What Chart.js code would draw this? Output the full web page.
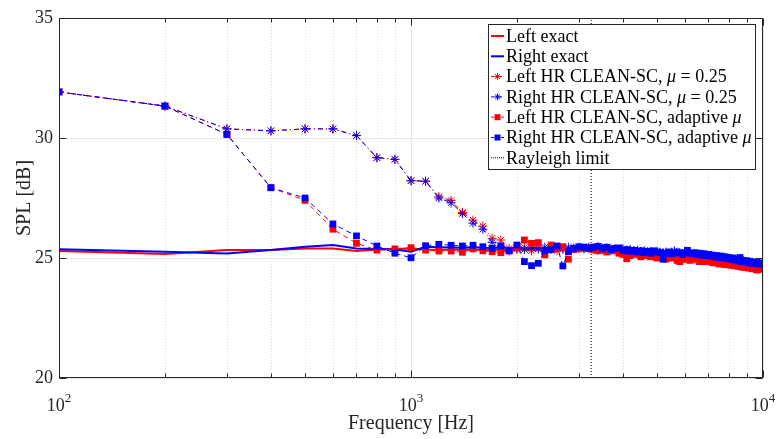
<!DOCTYPE html>
<html>
<head>
<meta charset="utf-8">
<script src="https://cdn.jsdelivr.net/npm/chart.js@4.4.1/dist/chart.umd.min.js"></script>
<style>
  html, body { margin: 0; padding: 0; background: #fff; }
  #spl { display: block; }
</style>
</head>
<body>
<canvas id="spl" width="776" height="439"></canvas>
<script>
// frequencies [Hz]
const freqs = [
  100, 200, 300, 400, 500, 600, 700, 800, 900, 1000,
  1100, 1200, 1300, 1400, 1500, 1600, 1700, 1800, 1900, 2000,
  2100, 2200, 2300, 2400, 2500, 2600, 2700, 2800, 2900, 3000,
  3100, 3200, 3300, 3400, 3500, 3600, 3700, 3800, 3900, 4000,
  4100, 4200, 4300, 4400, 4500, 4600, 4700, 4800, 4900, 5000,
  5100, 5200, 5300, 5400, 5500, 5600, 5700, 5800, 5900, 6000,
  6100, 6200, 6300, 6400, 6500, 6600, 6700, 6800, 6900, 7000,
  7100, 7200, 7300, 7400, 7500, 7600, 7700, 7800, 7900, 8000,
  8100, 8200, 8300, 8400, 8500, 8600, 8700, 8800, 8900, 9000,
  9100, 9200, 9300, 9400, 9500, 9600, 9700, 9800, 9900, 10000
];

const leftExact = [
  25.29, 25.17, 25.33, 25.33, 25.40, 25.40, 25.29, 25.35, 25.38, 25.40,
  25.35, 25.34, 25.33, 25.35, 25.34, 25.33, 25.32, 25.34, 25.33, 25.35,
  25.34, 25.33, 25.35, 25.32, 25.33, 25.34, 25.32, 25.31, 25.32, 25.30,
  25.30, 25.29, 25.27, 25.28, 25.26, 25.25, 25.23, 25.24, 25.22, 25.20,
  25.19, 25.17, 25.18, 25.16, 25.15, 25.13, 25.14, 25.12, 25.11, 25.10,
  25.09, 25.07, 25.08, 25.06, 25.05, 25.04, 25.05, 25.03, 25.02, 25.01,
  25.00, 24.98, 24.99, 24.97, 24.96, 24.94, 24.95, 24.93, 24.92, 24.91,
  24.90, 24.88, 24.89, 24.87, 24.85, 24.86, 24.84, 24.82, 24.83, 24.81,
  24.80, 24.78, 24.79, 24.77, 24.75, 24.76, 24.74, 24.72, 24.73, 24.71,
  24.70, 24.68, 24.69, 24.67, 24.66, 24.65, 24.66, 24.64, 24.63, 24.63
];

const rightExact = [
  25.36, 25.26, 25.19, 25.33, 25.47, 25.54, 25.40, 25.38, 25.35, 25.26,
  25.47, 25.45, 25.44, 25.43, 25.45, 25.43, 25.42, 25.44, 25.42, 25.43,
  25.42, 25.41, 25.43, 25.41, 25.40, 25.41, 25.39, 25.40, 25.39, 25.40,
  25.38, 25.38, 25.36, 25.37, 25.35, 25.34, 25.35, 25.33, 25.32, 25.31,
  25.30, 25.31, 25.29, 25.28, 25.27, 25.27, 25.26, 25.25, 25.24, 25.23,
  25.23, 25.22, 25.22, 25.21, 25.20, 25.20, 25.19, 25.18, 25.18, 25.17,
  25.16, 25.15, 25.14, 25.14, 25.12, 25.11, 25.10, 25.10, 25.08, 25.07,
  25.06, 25.05, 25.05, 25.03, 25.02, 25.01, 25.00, 24.99, 24.98, 24.97,
  24.96, 24.95, 24.94, 24.93, 24.92, 24.91, 24.90, 24.89, 24.88, 24.87,
  24.86, 24.85, 24.84, 24.83, 24.82, 24.81, 24.80, 24.80, 24.79, 24.78
];

// HR CLEAN-SC, mu = 0.25
const leftMu = [
  31.92, 31.33, 30.38, 30.30, 30.38, 30.38, 30.10, 29.18, 29.11, 28.22,
  28.20, 27.55, 27.40, 26.90, 26.58, 26.33, 25.82, 25.75, 25.40, 25.35,
  25.45, 25.30, 25.40, 25.28, 25.35, 25.30, 25.38, 25.32, 25.38, 25.40,
  25.38, 25.40, 25.36, 25.32, 25.35, 25.30, 25.32, 25.30, 25.25, 25.22,
  25.20, 25.18, 25.22, 25.15, 25.12, 25.15, 25.10, 25.12, 25.08, 25.10,
  25.06, 25.08, 25.02, 25.06, 25.04, 25.08, 25.00, 25.05, 25.02, 24.98,
  25.04, 24.98, 25.00, 24.95, 24.98, 24.92, 24.95, 24.90, 24.92, 24.88,
  24.92, 24.85, 24.88, 24.82, 24.85, 24.80, 24.82, 24.78, 24.80, 24.75,
  24.78, 24.72, 24.75, 24.70, 24.72, 24.68, 24.70, 24.66, 24.68, 24.64,
  24.66, 24.62, 24.64, 24.60, 24.62, 24.60, 24.62, 24.58, 24.60, 24.62
];

const rightMu = [
  31.92, 31.33, 30.38, 30.30, 30.38, 30.38, 30.10, 29.18, 29.11, 28.22,
  28.20, 27.50, 27.30, 26.85, 26.45, 26.20, 25.65, 25.50, 25.30, 25.40,
  25.35, 25.42, 25.38, 25.45, 25.40, 25.42, 25.38, 25.45, 25.42, 25.45,
  25.40, 25.45, 25.42, 25.48, 25.40, 25.42, 25.38, 25.40, 25.35, 25.38,
  25.32, 25.35, 25.30, 25.32, 25.28, 25.30, 25.25, 25.28, 25.22, 25.26,
  25.24, 25.22, 25.25, 25.20, 25.22, 25.30, 25.20, 25.22, 25.18, 25.22,
  25.20, 25.18, 25.15, 25.18, 25.12, 25.15, 25.10, 25.12, 25.08, 25.10,
  25.05, 25.08, 25.02, 25.05, 25.00, 25.02, 24.98, 25.00, 24.95, 24.98,
  24.92, 24.95, 24.90, 24.92, 24.88, 24.90, 24.85, 24.88, 24.85, 24.82,
  24.85, 24.80, 24.82, 24.78, 24.80, 24.78, 24.76, 24.78, 24.75, 24.78
];

// HR CLEAN-SC, adaptive mu
const leftAdaptive = [
  31.92, 31.33, 30.15, 27.93, 27.40, 26.20, 25.61, 25.33, 25.38, 25.43,
  25.33, 25.29, 25.29, 25.24, 25.38, 25.30, 25.26, 25.22, 25.30, 25.45,
  25.75, 25.61, 25.64, 25.13, 25.54, 25.40, 25.47, 24.95, 25.35, 25.40,
  25.45, 25.42, 25.35, 25.30, 25.38, 25.25, 25.30, 25.35, 25.20, 25.15,
  24.97, 25.10, 25.20, 25.15, 25.05, 25.10, 25.15, 25.05, 25.10, 25.00,
  25.08, 25.05, 24.95, 25.10, 25.00, 25.05, 24.90, 24.85, 25.00, 24.95,
  25.05, 24.90, 25.00, 24.95, 24.98, 24.85, 24.95, 24.90, 24.85, 24.95,
  24.88, 24.80, 24.85, 24.90, 24.75, 24.85, 24.80, 24.72, 24.80, 24.75,
  24.70, 24.78, 24.68, 24.72, 24.65, 24.70, 24.62, 24.68, 24.60, 24.65,
  24.58, 24.62, 24.55, 24.60, 24.55, 24.50, 24.52, 24.58, 24.55, 24.60
];

const rightAdaptive = [
  31.92, 31.33, 30.15, 27.93, 27.50, 26.42, 25.92, 25.50, 25.20, 25.01,
  25.51, 25.57, 25.53, 25.50, 25.53, 25.47, 25.40, 25.50, 25.30, 25.54,
  24.85, 24.68, 24.78, 25.30, 25.35, 25.50, 24.67, 25.26, 25.40, 25.47,
  25.45, 25.42, 25.45, 25.48, 25.40, 25.45, 25.35, 25.40, 25.42, 25.30,
  25.35, 25.28, 25.32, 25.25, 25.30, 25.22, 25.28, 25.20, 25.30, 25.25,
  25.22, 24.95, 25.20, 25.25, 25.18, 25.22, 25.25, 25.20, 25.15, 25.22,
  25.32, 25.20, 25.18, 25.22, 25.15, 25.20, 25.12, 25.18, 25.10, 25.15,
  25.08, 25.12, 25.05, 25.10, 25.02, 25.08, 25.00, 25.05, 24.98, 25.02,
  24.95, 25.00, 24.92, 24.95, 24.88, 25.02, 24.85, 24.90, 24.82, 24.88,
  24.80, 24.85, 24.78, 24.82, 24.78, 24.80, 24.75, 24.78, 24.75, 24.78
];

const rayleighHz = 3250;

const xMajorTicks = [100, 1000, 10000];
const xMinorTicks = [200, 300, 400, 500, 600, 700, 800, 900,
                     2000, 3000, 4000, 5000, 6000, 7000, 8000, 9000];
const yTicks = [20, 25, 30, 35];

const RED = "#ff0000";
const BLUE = "#0000ff";
const AXIS = "#262626";
const SERIF = "'Liberation Serif', 'Times New Roman', serif";

function pts(arr) {
    return freqs.map((f, i) => ({ x: f, y: arr[i] }));
}

const legendRows = [
    { parts: [["Left exact", 0]], color: RED, kind: "exact" },
    { parts: [["Right exact", 0]], color: BLUE, kind: "exact" },
    { parts: [["Left HR CLEAN-SC, ", 0], ["\u03bc", 1], [" = 0.25", 0]], color: RED, kind: "star" },
    { parts: [["Right HR CLEAN-SC, ", 0], ["\u03bc", 1], [" = 0.25", 0]], color: BLUE, kind: "star" },
    { parts: [["Left HR CLEAN-SC, adaptive ", 0], ["\u03bc", 1]], color: RED, kind: "square" },
    { parts: [["Right HR CLEAN-SC, adaptive ", 0], ["\u03bc", 1]], color: BLUE, kind: "square" },
    { parts: [["Rayleigh limit", 0]], color: "#000", kind: "dotted" }
];

// grid under the data, box / ticks / labels / legend on top
const matlabAxes = {
    id: "matlabAxes",
    beforeDatasetsDraw(chart) {
        const { ctx, chartArea: a, scales } = chart;
        ctx.save();
        ctx.lineWidth = 1;
        ctx.strokeStyle = "#d9d9d9";
        ctx.setLineDash([1, 2]);
        xMinorTicks.forEach(v => {
            const x = Math.round(scales.x.getPixelForValue(v)) + 0.5;
            ctx.beginPath(); ctx.moveTo(x, a.top); ctx.lineTo(x, a.bottom); ctx.stroke();
        });
        ctx.setLineDash([]);
        ctx.strokeStyle = "#e3e3e3";
        xMajorTicks.forEach(v => {
            const x = Math.round(scales.x.getPixelForValue(v)) + 0.5;
            ctx.beginPath(); ctx.moveTo(x, a.top); ctx.lineTo(x, a.bottom); ctx.stroke();
        });
        yTicks.forEach(v => {
            const y = Math.round(scales.y.getPixelForValue(v)) + 0.5;
            ctx.beginPath(); ctx.moveTo(a.left, y); ctx.lineTo(a.right, y); ctx.stroke();
        });
        ctx.restore();
    },
    afterDatasetsDraw(chart) {
        const { ctx, chartArea: a, scales } = chart;
        ctx.save();
        ctx.strokeStyle = AXIS;
        ctx.lineWidth = 1;
        ctx.setLineDash([]);

        // box
        const L = Math.round(a.left) + 0.5, R = Math.round(a.right) - 0.5;
        const T = Math.round(a.top) + 0.5, B = Math.round(a.bottom) - 0.5;
        ctx.strokeRect(L, T, R - L, B - T);

        // x ticks (inward, top and bottom)
        const xt = (v, len) => {
            const x = Math.round(scales.x.getPixelForValue(v)) + 0.5;
            ctx.beginPath();
            ctx.moveTo(x, B); ctx.lineTo(x, B - len);
            ctx.moveTo(x, T); ctx.lineTo(x, T + len);
            ctx.stroke();
        };
        xMinorTicks.forEach(v => xt(v, 4));
        xMajorTicks.forEach(v => xt(v, 7));
        yTicks.forEach(v => {
            const y = Math.round(scales.y.getPixelForValue(v)) + 0.5;
            ctx.beginPath();
            ctx.moveTo(L, y); ctx.lineTo(L + 7, y);
            ctx.moveTo(R, y); ctx.lineTo(R - 7, y);
            ctx.stroke();
        });

        // x tick labels 10^n
        ctx.fillStyle = AXIS;
        ctx.textBaseline = "alphabetic";
        ctx.textAlign = "left";
        xMajorTicks.forEach(v => {
            const x = scales.x.getPixelForValue(v);
            const exp = String(Math.round(Math.log10(v)));
            ctx.font = "18px " + SERIF;
            const wb = ctx.measureText("10").width;
            ctx.font = "13px " + SERIF;
            const we = ctx.measureText(exp).width;
            const x0 = x - (wb + we) / 2;
            ctx.font = "18px " + SERIF;
            ctx.fillText("10", x0, 411);
            ctx.font = "13px " + SERIF;
            ctx.fillText(exp, x0 + wb, 402);
        });

        // axis titles
        ctx.font = "20px " + SERIF;
        ctx.textAlign = "center";
        ctx.textBaseline = "middle";
        ctx.fillText("Frequency [Hz]", (a.left + a.right) / 2, 424);
        ctx.save();
        ctx.translate(25, (a.top + a.bottom) / 2);
        ctx.rotate(-Math.PI / 2);
        ctx.fillText("SPL [dB]", 0, 0);
        ctx.restore();

        // legend
        const bx = 488.5, by = 24.5, bw = 267, bh = 145;
        ctx.fillStyle = "#fff";
        ctx.fillRect(bx, by, bw, bh);
        ctx.strokeStyle = AXIS;
        ctx.strokeRect(bx, by, bw, bh);
        legendRows.forEach((row, i) => {
            const y = 36 + i * 20.3;
            const x1 = 491, x2 = 504, xm = 497.5;
            ctx.strokeStyle = row.color;
            ctx.fillStyle = row.color;
            if (row.kind === "exact") {
                ctx.lineWidth = 2; ctx.setLineDash([]);
            } else if (row.kind === "star") {
                ctx.lineWidth = 1; ctx.setLineDash([3, 2, 1, 2]);
            } else if (row.kind === "square") {
                ctx.lineWidth = 1; ctx.setLineDash([3, 2]);
            } else {
                ctx.lineWidth = 1; ctx.setLineDash([1, 1]);
            }
            ctx.beginPath(); ctx.moveTo(x1, y); ctx.lineTo(x2, y); ctx.stroke();
            ctx.setLineDash([]);
            ctx.lineWidth = 1;
            if (row.kind === "star") {
                Chart.helpers.drawPoint(ctx, { pointStyle: "star", radius: 3.5, borderWidth: 1 }, xm, y);
            } else if (row.kind === "square") {
                ctx.fillRect(xm - 3, y - 3, 6, 6);
            }
            let tx = 506;
            ctx.fillStyle = "#000";
            ctx.textAlign = "left";
            ctx.textBaseline = "middle";
            row.parts.forEach(([txt, ital]) => {
                ctx.font = (ital ? "italic " : "") + "18px " + SERIF;
                ctx.fillText(txt, tx, y + 1);
                tx += ctx.measureText(txt).width;
            });
        });
        ctx.restore();
    }
};

new Chart(document.getElementById("spl"), {
    type: "line",
    data: {
        datasets: [
            {
                label: "Left exact", data: pts(leftExact), order: 6,
                borderColor: RED, borderWidth: 2, pointRadius: 0, tension: 0
            },
            {
                label: "Right exact", data: pts(rightExact), order: 5,
                borderColor: BLUE, borderWidth: 2, pointRadius: 0, tension: 0
            },
            {
                label: "Left HR CLEAN-SC, \u03bc = 0.25", data: pts(leftMu), order: 4,
                borderColor: RED, borderWidth: 1, borderDash: [5, 3, 1, 3],
                pointStyle: "star", pointRadius: 4.5, pointBorderWidth: 1,
                pointBorderColor: RED, pointBackgroundColor: RED
            },
            {
                label: "Right HR CLEAN-SC, \u03bc = 0.25", data: pts(rightMu), order: 3,
                borderColor: BLUE, borderWidth: 1, borderDash: [5, 3, 1, 3],
                pointStyle: "star", pointRadius: 4.5, pointBorderWidth: 1,
                pointBorderColor: BLUE, pointBackgroundColor: BLUE
            },
            {
                label: "Left HR CLEAN-SC, adaptive \u03bc", data: pts(leftAdaptive), order: 2,
                borderColor: RED, borderWidth: 1, borderDash: [5, 4],
                pointStyle: "rect", pointRadius: 4.8, pointBorderWidth: 0,
                pointBackgroundColor: RED
            },
            {
                label: "Right HR CLEAN-SC, adaptive \u03bc", data: pts(rightAdaptive), order: 1,
                borderColor: BLUE, borderWidth: 1, borderDash: [5, 4],
                pointStyle: "rect", pointRadius: 4.8, pointBorderWidth: 0,
                pointBackgroundColor: BLUE
            },
            {
                label: "Rayleigh limit", order: 0,
                data: [{ x: rayleighHz, y: 20 }, { x: rayleighHz, y: 35 }],
                borderColor: "#000", borderWidth: 1, borderDash: [1, 2], pointRadius: 0
            }
        ]
    },
    options: {
        responsive: false,
        animation: false,
        devicePixelRatio: 1,
        layout: { padding: { top: 18, right: 13, left: 0, bottom: 0 } },
        plugins: { legend: { display: false }, tooltip: { enabled: false } },
        scales: {
            x: {
                type: "logarithmic", min: 100, max: 10000,
                grid: { display: false }, border: { display: false },
                ticks: { display: false },
                afterFit: s => { s.height = 61; }
            },
            y: {
                min: 20, max: 35,
                grid: { display: false, drawTicks: false }, border: { display: false },
                afterBuildTicks: s => { s.ticks = yTicks.map(v => ({ value: v })); },
                ticks: { color: AXIS, padding: 6, font: { family: SERIF, size: 18 } },
                afterFit: s => { s.width = 59; }
            }
        }
    },
    plugins: [matlabAxes]
});
</script>
</body>
</html>
